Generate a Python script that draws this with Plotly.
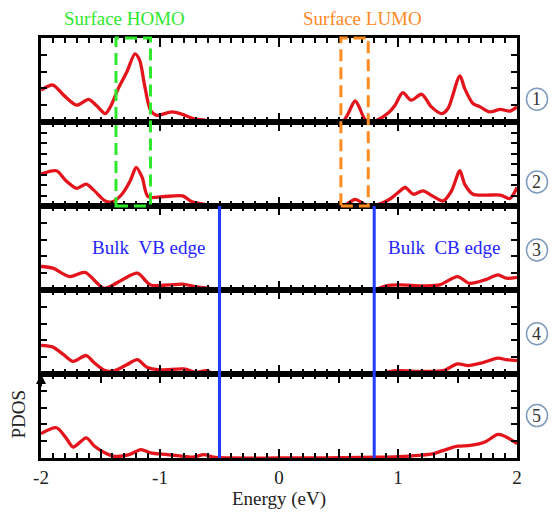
import plotly.graph_objects as go
from plotly.subplots import make_subplots

# ---------------- data ----------------
E1 = [-2.0, -1.90, -1.81, -1.70, -1.60, -1.53, -1.46, -1.41, -1.35, -1.28, -1.21, -1.17, -1.13, -1.08,
      -1.03, -0.90, -0.81, -0.72, -0.61, -0.5, 0.0, 0.53, 0.64, 0.71, 0.74, 0.82, 0.92, 0.975, 1.04, 1.11,
      1.20, 1.28, 1.37, 1.42, 1.52, 1.56, 1.63, 1.69, 1.77, 1.86, 1.94, 2.0]
P1 = [1.9, 2.2, 1.6, 1.0, 1.35, 0.95, 0.5, 1.0, 2.0, 2.96, 4.05, 3.65, 2.2, 0.7,
      0.4, 0.6, 0.45, 0.2, 0.1, 0.02, 0.0, 0.0, 1.25, 0.3, 0.0, 0.1, 0.55, 1.0, 1.75, 1.3,
      1.65, 0.9, 0.5, 0.8, 2.75, 2.0, 1.1, 0.9, 0.6, 0.75, 0.65, 0.9]

E2 = [-2.0, -1.87, -1.79, -1.70, -1.62, -1.55, -1.46, -1.40, -1.32, -1.25, -1.20, -1.15, -1.10, -0.98,
      -0.81, -0.73, -0.57, -0.45, 0.0, 0.54, 0.64, 0.72, 0.81, 0.93, 1.00, 1.06, 1.13, 1.21, 1.29, 1.38,
      1.45, 1.52, 1.56, 1.63, 1.74, 1.86, 1.94, 2.0]
P2 = [1.9, 2.1, 1.5, 1.05, 1.3, 0.9, 0.3, 0.25, 0.7, 1.5, 2.3, 1.7, 0.55, 0.55,
      0.6, 0.25, 0.05, 0.0, 0.0, 0.0, 0.4, 0.1, 0.05, 0.4, 0.8, 1.1, 0.7, 0.9, 0.6, 0.3,
      0.9, 2.1, 1.3, 0.7, 0.65, 0.65, 0.45, 1.1]

E3 = [-2.0, -1.90, -1.76, -1.63, -1.47, -1.32, -1.19, -1.08, -0.93, -0.81, -0.70, -0.58, -0.5, 0.0,
      0.81, 0.90, 1.02, 1.20, 1.35, 1.50, 1.60, 1.73, 1.84, 1.91, 2.0]
P3 = [1.4, 1.3, 0.8, 1.05, 0.1, 0.6, 1.0, 0.3, 0.3, 0.35, 0.2, 0.1, 0.0, 0.0,
      0.05, 0.25, 0.3, 0.25, 0.3, 0.8, 0.4, 0.6, 0.9, 0.7, 0.75]

E4 = [-2.0, -1.90, -1.81, -1.73, -1.62, -1.55, -1.46, -1.38, -1.28, -1.19, -1.11, -1.0, -0.80, -0.69,
      -0.61, -0.54, 0.0, 0.84, 0.99, 1.20, 1.38, 1.50, 1.59, 1.70, 1.84, 1.91, 2.0]
P4 = [1.7, 1.6, 1.15, 0.75, 1.1, 0.65, 0.2, 0.2, 0.55, 0.85, 0.4, 0.25, 0.3, 0.1,
      0.2, 0.0, 0.0, 0.05, 0.2, 0.15, 0.2, 0.6, 0.5, 0.65, 0.95, 0.85, 0.8]

E5 = [-2.0, -1.87, -1.79, -1.73, -1.62, -1.55, -1.46, -1.38, -1.26, -1.16, -1.08, -0.94, -0.80, -0.72,
      -0.63, -0.55, 0.0, 0.84, 1.05, 1.29, 1.38, 1.50, 1.61, 1.73, 1.84, 1.91, 2.0]
P5 = [1.45, 1.8, 1.2, 0.65, 1.2, 0.7, 0.3, 0.1, 0.2, 0.5, 0.3, 0.2, 0.1, 0.05,
      0.2, 0.05, 0.0, 0.05, 0.1, 0.25, 0.45, 0.7, 0.75, 0.95, 1.4, 1.25, 0.85]

energies = [E1, E2, E3, E4, E5]
pdos = [P1, P2, P3, P4, P5]
panel_labels = ["1", "2", "3", "4", "5"]
y_tick_counts = [5, 8, 5, 5, 5]

homo_window = [-1.37, -1.08]
lumo_window = [0.52, 0.75]
vb_edge = -0.5
cb_edge = 0.8

x_major = [-2, -1.5, -1, -0.5, 0, 0.5, 1, 1.5, 2]
x_major_text = ["-2", "", "-1", "", "0", "", "1", "", "2"]

# ---------------- figure ----------------
SERIF = "Times New Roman, Liberation Serif, DejaVu Serif, serif"
NB = "\u00a0"
fig = make_subplots(rows=5, cols=1, shared_xaxes=True, vertical_spacing=0)

for i in range(5):
    fig.add_trace(go.Scatter(x=energies[i], y=pdos[i], mode="lines",
                             line=dict(color="#e3141b", width=3.3, shape="spline", smoothing=0.8),
                             showlegend=False, hoverinfo="skip"),
                  row=i + 1, col=1)
    fig.update_yaxes(range=[0, 5], dtick=5 / y_tick_counts[i], tick0=0,
                     ticks="inside", ticklen=6, tickwidth=2, tickcolor="black",
                     showticklabels=False, showgrid=False, zeroline=False,
                     showline=True, linecolor="black", linewidth=2.5, mirror="allticks",
                     row=i + 1, col=1)
    fig.update_xaxes(range=[-2, 2], tickmode="array", tickvals=x_major, ticktext=x_major_text,
                     ticks="inside", ticklen=9, tickwidth=2, tickcolor="black",
                     minor=dict(dtick=0.1, tick0=0, ticks="inside", ticklen=5, tickwidth=1.5,
                                tickcolor="black", showgrid=False),
                     showticklabels=(i == 4), showgrid=False, zeroline=False,
                     showline=True, linecolor="black", linewidth=2.5, mirror="allticks",
                     tickfont=dict(family=SERIF, size=19, color="#222"),
                     row=i + 1, col=1)

fig.update_xaxes(title=dict(text="Energy (eV)", font=dict(family=SERIF, size=19, color="#222"),
                            standoff=2), row=5, col=1)

shapes = []
# surface HOMO / LUMO dashed boxes (span panels 1-2)
shapes.append(dict(type="rect", xref="x5", yref="paper", x0=homo_window[0], x1=homo_window[1],
                   y0=0.6, y1=1.0, line=dict(color="#2ee82e", width=3, dash="12px,6px"),
                   fillcolor="rgba(0,0,0,0)", layer="above"))
shapes.append(dict(type="rect", xref="x5", yref="paper", x0=lumo_window[0], x1=lumo_window[1],
                   y0=0.6, y1=1.0, line=dict(color="#ff8a1f", width=3, dash="12px,6px"),
                   fillcolor="rgba(0,0,0,0)", layer="above"))
# bulk band edges (span panels 3-5)
for xe in (vb_edge, cb_edge):
    shapes.append(dict(type="line", xref="x5", yref="paper", x0=xe, x1=xe, y0=0.0, y1=0.6,
                       line=dict(color="#1f3cff", width=3), layer="above"))

# circled panel labels
label_y_px = [100, 184, 253, 338, 421]
plot_top, plot_bot = 38, 464
H = plot_bot - plot_top
annotations = []
for lab, ypx in zip(panel_labels, label_y_px):
    yp = (plot_bot - ypx) / H
    shapes.append(dict(type="circle", xref="paper", yref="paper", xsizemode="pixel", ysizemode="pixel",
                       xanchor=1.042, yanchor=yp, x0=-10.5, x1=10.5, y0=-11, y1=11,
                       line=dict(color="#7f9bbd", width=1.5), fillcolor="white"))
    annotations.append(dict(x=1.042, y=yp, xref="paper", yref="paper", text=lab, showarrow=False,
                            font=dict(family=SERIF, size=18, color="#333"), xanchor="center",
                            yanchor="middle"))

annotations += [
    dict(x=-1.3, y=1.0, xref="x5", yref="paper", yshift=20, text="Surface HOMO", showarrow=False,
         font=dict(family=SERIF, size=19, color="#2ee82e"), yanchor="middle"),
    dict(x=0.7, y=1.0, xref="x5", yref="paper", yshift=20, text="Surface LUMO", showarrow=False,
         font=dict(family=SERIF, size=19, color="#ff8a1f"), yanchor="middle"),
    dict(x=-1.1, y=(plot_bot - 250) / H, xref="x5", yref="paper", text="Bulk" + NB + NB + "VB edge",
         showarrow=False, font=dict(family=SERIF, size=19, color="#2424ff"), yanchor="middle"),
    dict(x=1.39, y=(plot_bot - 250) / H, xref="x5", yref="paper", text="Bulk" + NB + NB + "CB edge",
         showarrow=False, font=dict(family=SERIF, size=19, color="#2424ff"), yanchor="middle"),
    dict(x=0, y=(plot_bot - 420) / H, xref="paper", yref="paper", xshift=-22, text="PDOS",
         showarrow=False, textangle=-90, font=dict(family=SERIF, size=19, color="#222"),
         xanchor="center", yanchor="middle"),
    dict(x=0, y=0.2, xref="paper", yref="paper", ax=0, ay=14, text="", showarrow=True,
         arrowhead=2, arrowsize=1, arrowwidth=2, arrowcolor="black"),
]

fig.update_layout(width=553, height=515, margin=dict(l=41, r=36, t=38, b=51),
                  paper_bgcolor="white", plot_bgcolor="white", showlegend=False,
                  font=dict(family=SERIF),
                  shapes=shapes, annotations=annotations)

fig.write_html("out.html")
